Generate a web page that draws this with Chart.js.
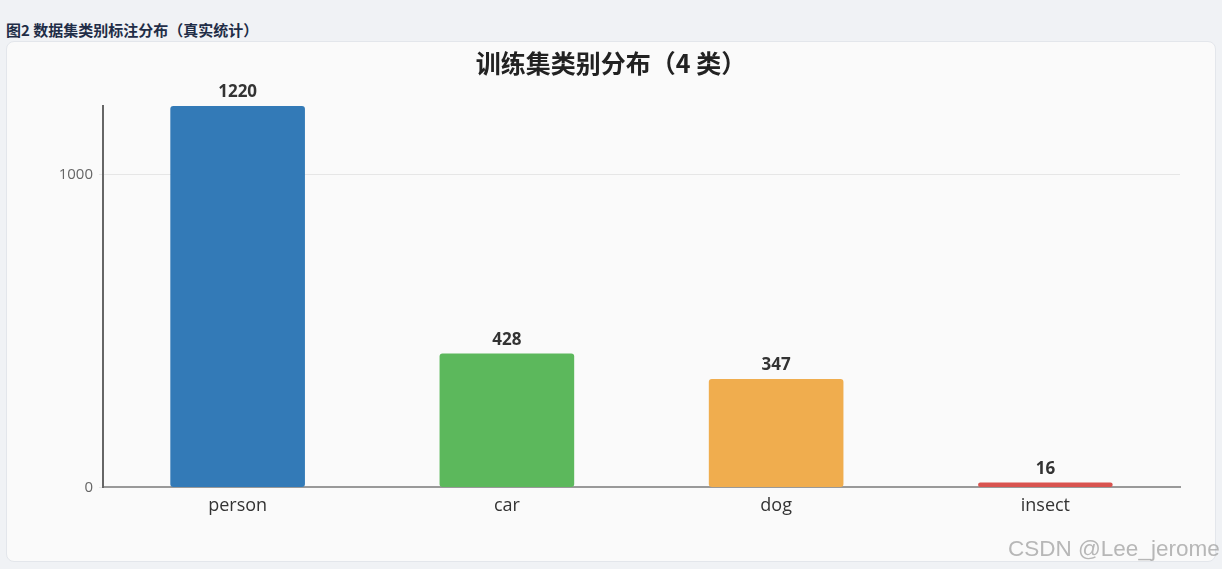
<!DOCTYPE html>
<html>
<head>
<meta charset="utf-8">
<script src="https://cdn.jsdelivr.net/npm/chart.js@4/dist/chart.umd.min.js"></script>
<style>
  html, body { margin: 0; padding: 0; }
  body {
    width: 1222px; height: 569px; background: #f0f2f5; position: relative; overflow: hidden;
    font-family: "Open Sans", "Noto Sans CJK SC", sans-serif;
  }
  .caption {
    position: absolute; left: 6px; top: 19px;
    font-size: 15px; font-weight: bold; color: #1f2d47;
    font-family: "Noto Sans CJK SC", sans-serif;
  }
  .card {
    position: absolute; left: 6px; top: 41px; width: 1208px; height: 519px;
    background: #fafafa; border: 1px solid #e3e6eb; border-radius: 8px;
  }
  .chart-box { position: absolute; left: 0; top: 0; width: 1208px; height: 519px; }
  .watermark {
    position: absolute; left: 1008px; top: 536px; white-space: nowrap;
    font-size: 22.5px; color: rgba(160,160,160,0.75); font-family: "Liberation Sans", sans-serif;
  }
</style>
</head>
<body>
<div class="caption">图2 数据集类别标注分布（真实统计）</div>
<div class="card"><div class="chart-box"><canvas id="classChart"></canvas></div></div>
<div class="watermark">CSDN @Lee_jerome</div>
<script>
// 训练集各类别数量
const categories = ['person', 'car', 'dog', 'insect'];
const counts = [1220, 428, 347, 16];
const barColors = ['#337ab7', '#5cb85c', '#f0ad4e', '#d9534f'];
const yTicks = [0, 1000];

// 在柱子上方写数值
const valueLabels = {
  id: 'valueLabels',
  afterDatasetsDraw(chart) {
    const ctx = chart.ctx;
    const meta = chart.getDatasetMeta(0);
    ctx.save();
    ctx.font = 'bold 17px "Open Sans", sans-serif';
    ctx.fillStyle = '#333333';
    ctx.textAlign = 'center';
    ctx.textBaseline = 'bottom';
    meta.data.forEach((bar, i) => {
      ctx.fillText(String(counts[i]), bar.x, bar.y - 5);
    });
    ctx.restore();
  }
};

new Chart(document.getElementById('classChart'), {
  type: 'bar',
  data: {
    labels: categories,
    datasets: [{
      data: counts,
      backgroundColor: barColors,
      borderRadius: 3,
      borderSkipped: false,
      barPercentage: 0.5,
      categoryPercentage: 1
    }]
  },
  options: {
    responsive: true,
    maintainAspectRatio: false,
    animation: false,
    layout: { padding: { left: 0, right: 0, top: 0, bottom: 44 } },
    plugins: {
      legend: { display: false },
      tooltip: { enabled: false },
      title: {
        display: true,
        text: '训练集类别分布（4 类）',
        color: '#222222',
        font: { family: '"Noto Sans CJK SC", sans-serif', size: 25, weight: 'bold' },
        padding: { top: 6, bottom: 28 }
      }
    },
    scales: {
      x: {
        grid: { display: false },
        border: { color: '#999999', width: 2 },
        ticks: { color: '#333333', padding: 0, font: { family: '"Open Sans", sans-serif', size: 18 } }
      },
      y: {
        min: 0,
        max: 1220,
        afterBuildTicks: scale => { scale.ticks = yTicks.map(v => ({ value: v })); },
        afterFit: scale => { scale.width = 96; },
        grid: { color: '#e6e6e6', tickLength: 4 },
        border: { color: '#666666', width: 2 },
        ticks: {
          color: '#666666', padding: 6,
          font: { family: '"Open Sans", sans-serif', size: 15 },
          callback: value => String(value)
        }
      },
      // 右侧留白（空轴）
      yRight: {
        position: 'right',
        grid: { display: false },
        border: { display: false },
        ticks: { display: false },
        afterFit: scale => { scale.width = 35; }
      }
    }
  },
  plugins: [valueLabels]
});
</script>
</body>
</html>
